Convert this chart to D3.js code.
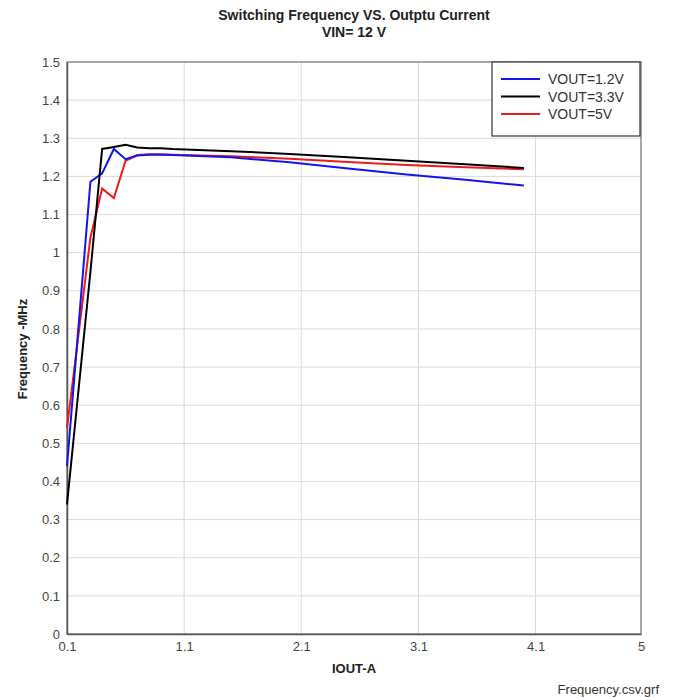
<!DOCTYPE html>
<html>
<head>
<meta charset="utf-8">
<script src="https://cdnjs.cloudflare.com/ajax/libs/d3/7.8.5/d3.min.js"></script>
<style>
  body { margin: 0; background: #fff; }
  svg { font-family: Arial, "Liberation Sans", sans-serif; }
  .tick text { fill: #444; font-size: 13px; }
</style>
</head>
<body>
<script>
// frequency vs output current, one series per output voltage
const iout = [0.1, 0.3, 0.4, 0.5, 0.6, 0.7, 0.8, 0.9, 1.0, 1.5, 2.0, 2.5, 3.0, 3.5, 4.0];
const freqVout12 = [0.44, 1.186, 1.208, 1.272, 1.245, 1.255, 1.257, 1.257, 1.256, 1.250, 1.237, 1.221, 1.205, 1.191, 1.176];
const freqVout33 = [0.34, 0.95, 1.272, 1.277, 1.283, 1.276, 1.274, 1.274, 1.272, 1.266, 1.259, 1.250, 1.241, 1.232, 1.222];
const freqVout5 = [0.54, 1.04, 1.168, 1.143, 1.241, 1.256, 1.258, 1.258, 1.257, 1.253, 1.246, 1.238, 1.230, 1.224, 1.219];
const seriesNames = ["VOUT=1.2V", "VOUT=3.3V", "VOUT=5V"];
const seriesColors = ["#1414f0", "#000000", "#ee1a1a"];
const xTicks = [0.1, 1.1, 2.1, 3.1, 4.1, 5];
const yTicks = d3.range(0, 16).map(d => d / 10);

let margin = null, width = null, height = null;
let svg = null;
let x, y = null;

setupCanvasSize();
appendSvg("body");
drawChart();

function setupCanvasSize() {
  margin = { top: 62, left: 67, bottom: 64, right: 33 };
  width = 674 - margin.left - margin.right;
  height = 698 - margin.top - margin.bottom;
}

function appendSvg(domElement) {
  const root = d3.select(domElement).append("svg")
    .attr("width", 674)
    .attr("height", 698);

  root.append("text")
    .attr("x", 354).attr("y", 20)
    .attr("text-anchor", "middle")
    .style("font-weight", "bold").style("font-size", "14px").style("fill", "#222")
    .text("Switching Frequency VS. Outptu Current");
  root.append("text")
    .attr("x", 354).attr("y", 37)
    .attr("text-anchor", "middle")
    .style("font-weight", "bold").style("font-size", "14px").style("fill", "#222")
    .text("VIN= 12 V");
  root.append("text")
    .attr("x", 659).attr("y", 694)
    .attr("text-anchor", "end")
    .style("font-size", "13px").style("fill", "#333")
    .text("Frequency.csv.grf");

  svg = root.append("g")
    .attr("transform", `translate(${margin.left}, ${margin.top})`);
}

function drawChart() {
  x = d3.scaleLinear().domain([0.1, 5]).range([0, width]);
  y = d3.scaleLinear().domain([0, 1.5]).range([height, 0]);

  appendGrid();
  appendXAxis();
  appendYAxis();

  const data = [freqVout12, freqVout33, freqVout5].map((vals, i) => ({
    name: seriesNames[i],
    color: seriesColors[i],
    points: iout.map((c, j) => ({ iout: c, freq: vals[j] }))
  }));

  // draw 5V first so 3.3V and 1.2V sit on top
  appendLineCharts([data[2], data[0], data[1]]);
  appendLegend(data);
}

function appendGrid() {
  svg.append("g")
    .selectAll("line")
    .data(yTicks.slice(1, -1))
    .enter().append("line")
    .attr("x1", 0).attr("x2", width)
    .attr("y1", d => y(d)).attr("y2", d => y(d))
    .style("stroke", "#d9d9d9").style("stroke-width", 1);

  svg.append("g")
    .selectAll("line")
    .data(xTicks.slice(1, -1))
    .enter().append("line")
    .attr("x1", d => x(d)).attr("x2", d => x(d))
    .attr("y1", 0).attr("y2", height)
    .style("stroke", "#d9d9d9").style("stroke-width", 1);

  // plot frame
  svg.append("rect")
    .attr("x", 0).attr("y", 0)
    .attr("width", width).attr("height", height)
    .style("fill", "none").style("stroke", "#8a8a8a").style("stroke-width", 1.5);
}

function appendXAxis() {
  const ax = svg.append("g")
    .attr("transform", `translate(0, ${height})`)
    .call(d3.axisBottom(x).tickValues(xTicks).tickSize(0).tickPadding(8)
      .tickFormat(d => d3.format("")(d)));
  ax.select(".domain").style("stroke", "#555").style("stroke-width", 1.5);

  svg.append("text")
    .attr("x", x(2.55))
    .attr("y", height + 39)
    .attr("text-anchor", "middle")
    .style("font-weight", "bold").style("font-size", "13px").style("fill", "#222")
    .text("IOUT-A");
}

function appendYAxis() {
  const ay = svg.append("g")
    .call(d3.axisLeft(y).tickValues(yTicks).tickSize(0).tickPadding(7)
      .tickFormat(d => d3.format("")(+d.toFixed(1))));
  ay.select(".domain").style("stroke", "#555").style("stroke-width", 1.5);

  svg.append("text")
    .attr("transform", "rotate(-90)")
    .attr("x", -(height / 2) - 1)
    .attr("y", -40)
    .attr("text-anchor", "middle")
    .style("font-weight", "bold").style("font-size", "13px").style("fill", "#222")
    .text("Frequency -MHz");
}

function appendLineCharts(series) {
  const valueline = d3.line()
    .x(d => x(d.iout))
    .y(d => y(d.freq));

  svg.selectAll("path.series")
    .data(series)
    .enter().append("path")
    .attr("class", "series")
    .attr("d", d => valueline(d.points))
    .style("fill", "none")
    .style("stroke", d => d.color)
    .style("stroke-width", "2px");
}

function appendLegend(series) {
  const legend = svg.append("g")
    .attr("class", "legend")
    .attr("transform", `translate(${width - 149}, 0)`);

  legend.append("rect")
    .attr("x", 0).attr("y", 0)
    .attr("width", 148).attr("height", 74)
    .style("fill", "#fff").style("stroke", "#333").style("stroke-width", 1.2);

  legend.selectAll("line")
    .data(series)
    .enter().append("line")
    .attr("x1", 9).attr("x2", 48)
    .attr("y1", (d, i) => 17 + i * 17.5).attr("y2", (d, i) => 17 + i * 17.5)
    .style("stroke", d => d.color).style("stroke-width", 2);

  legend.selectAll("text")
    .data(series)
    .enter().append("text")
    .attr("x", 56)
    .attr("y", (d, i) => 22 + i * 17.5)
    .style("font-size", "14px").style("fill", "#333")
    .text(d => d.name);
}
</script>
</body>
</html>
